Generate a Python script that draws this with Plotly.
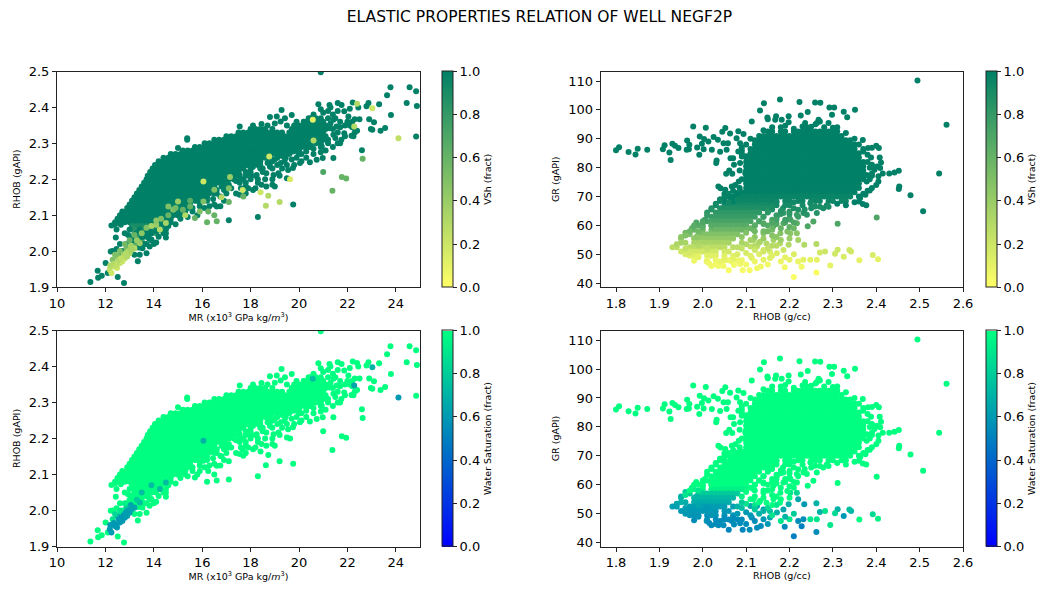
import plotly.graph_objects as go

core_rhob = [2.08,2.09,2.10,2.11,2.12,2.13,2.14,2.15,2.16,2.17,2.18,2.19,2.20,2.21,2.22,2.23,2.24,2.25,2.26,2.27,2.28,2.29,2.30,2.31,2.32,2.33,2.34,2.35,2.36,2.37]
core_mr = [
[12.4,12.6,12.8,13.0,13.2,13.4,13.6,13.8,14.0,14.2,14.4],
[12.5,12.7,12.9,13.1,13.3,13.5,13.7,13.9,14.1,14.3,14.5,14.7],
[12.6,12.8,13.0,13.2,13.4,13.6,13.8,14.0,14.2,14.4,14.6,14.8,15.0],
[12.7,12.9,13.1,13.3,13.5,13.7,13.9,14.1,14.3,14.5,14.7,14.9,15.1,15.2],
[12.9,13.1,13.3,13.5,13.7,13.9,14.1,14.3,14.5,14.7,14.9,15.1,15.3,15.4],
[13.0,13.2,13.4,13.6,13.8,14.0,14.2,14.4,14.6,14.8,15.0,15.2,15.4,15.5],
[13.1,13.3,13.5,13.7,13.9,14.1,14.3,14.5,14.7,14.9,15.1,15.3,15.5,15.7,15.8],
[13.2,13.4,13.6,13.8,14.0,14.2,14.4,14.6,14.8,15.0,15.2,15.4,15.6,15.8,16.0],
[13.3,13.5,13.7,13.9,14.1,14.3,14.5,14.7,14.9,15.1,15.3,15.5,15.7,15.9,16.1,16.2],
[13.4,13.6,13.8,14.0,14.2,14.4,14.6,14.8,15.0,15.2,15.4,15.6,15.8,16.0,16.2,16.3],
[13.5,13.7,13.9,14.1,14.3,14.5,14.7,14.9,15.1,15.3,15.5,15.7,15.9,16.1,16.3,16.5],
[13.6,13.8,14.0,14.2,14.4,14.6,14.8,15.0,15.2,15.4,15.6,15.8,16.0,16.2,16.4,16.6,16.8],
[13.7,13.9,14.1,14.3,14.5,14.7,14.9,15.1,15.3,15.5,15.7,15.9,16.1,16.3,16.5,16.7,16.9,17.0],
[13.75,13.9,14.1,14.3,14.5,14.7,14.9,15.1,15.3,15.5,15.7,15.9,16.1,16.3,16.5,16.7,16.9,17.1,17.2],
[13.85,14.0,14.2,14.4,14.6,14.8,15.0,15.2,15.4,15.6,15.8,16.0,16.2,16.4,16.6,16.8,17.0,17.2,17.4],
[13.95,14.1,14.3,14.5,14.7,14.9,15.1,15.3,15.5,15.7,15.9,16.1,16.3,16.5,16.7,16.9,17.1,17.3,17.5,17.6],
[14.05,14.2,14.4,14.6,14.8,15.0,15.2,15.4,15.6,15.8,16.0,16.2,16.4,16.6,16.8,17.0,17.2,17.4,17.6,17.8,17.9],
[14.2,14.4,14.6,14.8,15.0,15.2,15.4,15.6,15.8,16.0,16.2,16.4,16.6,16.8,17.0,17.2,17.4,17.6,17.8,18.0,18.2,18.3],
[14.4,14.6,14.8,15.0,15.2,15.4,15.6,15.8,16.0,16.2,16.4,16.6,16.8,17.0,17.2,17.4,17.6,17.8,18.0,18.2,18.4,18.6,18.8],
[14.7,14.9,15.1,15.3,15.5,15.7,15.9,16.1,16.3,16.5,16.7,16.9,17.1,17.3,17.5,17.7,17.9,18.1,18.3,18.5,18.7,18.9,19.1,19.3,19.4],
[15.2,15.4,15.6,15.8,16.0,16.2,16.4,16.6,16.8,17.0,17.2,17.4,17.6,17.8,18.0,18.2,18.4,18.6,18.8,19.0,19.2,19.4,19.6,19.8,20.0],
[15.7,15.9,16.1,16.3,16.5,16.7,16.9,17.1,17.3,17.5,17.7,17.9,18.1,18.3,18.5,18.7,18.9,19.1,19.3,19.5,19.7,19.9,20.1,20.3,20.4],
[16.1,16.3,16.5,16.7,16.9,17.1,17.3,17.5,17.7,17.9,18.1,18.3,18.5,18.7,18.9,19.1,19.3,19.5,19.7,19.9,20.1,20.3,20.5,20.7,20.9],
[16.5,16.7,16.9,17.1,17.3,17.5,17.7,17.9,18.1,18.3,18.5,18.7,18.9,19.1,19.3,19.5,19.7,19.9,20.1,20.3,20.5,20.7,20.9,21.0],
[17.0,17.2,17.4,17.6,17.8,18.0,18.2,18.4,18.6,18.8,19.0,19.2,19.4,19.6,19.8,20.0,20.2,20.4,20.6,20.8,21.0],
[17.5,17.7,17.9,18.1,18.3,18.5,18.7,18.9,19.1,19.3,19.6,19.8,20.0,20.2,20.4,20.6,20.8,21.0],
[18.0,18.2,18.4,18.6,18.9,19.7,19.9,20.1,20.3,20.5,20.7,20.9,21.1],
[20.0,20.2,20.4,20.6,20.8,21.0,21.1],
[20.2,20.4,20.6,20.8,21.0],
[20.5,20.7,20.9],
]
band_rhob = [2.07,2.06,2.05,2.04,2.03,2.02,2.01,2.00]
band_vsh = [0.9,0.85,0.8,0.75,0.7,0.65,0.6,0.55]
band_mr = [
[13.1,13.3,13.5,13.7,13.9,14.1,14.3],
[13.2,13.4,13.6,13.8,14.0,14.2],
[13.2,13.4,13.6,13.9,14.1],
[13.1,13.3,13.5,13.7],
[13.1,13.3,13.5],
[13.0,13.2,13.4],
[12.9,13.1,13.3],
[12.8,13.0],
]
dark_mr = [24.57,23.78,23.64,24.84,24.45,24.87,23.31,23.8,22.87,22.79,22.9,23.1,22.97,23.03,23.37,23.56,24.84,22.6,22.22,22.45,22.1,22.5,22.3,22.04,22.3,22.17,21.87,21.7,21.42,20.9,21.6,21.26,20.8,21.76,21.6,21.87,21.42,21.55,21.27,21.42,21.14,20.94,20.98,20.73,20.45,20.04,19.97,20.3,19.7,19.28,19.08,18.8,19.42,19.24,18.45,18.1,17.55,15.38,15.38,15.0,
19.76,18.3,17.1,16.45,16.6,16.75,16.3,17.0,17.2,17.55,17.9,18.1,17.55,17.8,18.25,18.3,18.45,18.65,18.9,18.65,18.95,19.15,19.5,19.55,19.75,19.25,19.45,19.75,18.4,18.1,18.8,17.3,17.55,
11.38,11.68,11.7,11.85,12.77,12.51,12.01,12.1,12.22,13.34,13.42,13.7,13.53,13.83,13.9,14.1,14.5,14.5,12.43,12.46,12.25,12.64,12.94,12.46,12.66,13.08,13.42,13.83,14.25,13.56,13.28,13.77]
dark_rhob = [2.456,2.456,2.434,2.445,2.412,2.404,2.409,2.379,2.412,2.403,2.367,2.359,2.34,2.338,2.335,2.343,2.319,2.281,2.414,2.4,2.396,2.367,2.367,2.375,2.33,2.321,2.328,2.3,2.259,2.498,2.412,2.407,2.409,2.407,2.39,2.389,2.366,2.347,2.342,2.324,2.31,2.291,2.259,2.254,2.247,2.245,2.273,2.277,2.379,2.393,2.375,2.373,2.37,2.361,2.354,2.35,2.347,2.314,2.31,2.287,
2.13,2.095,2.086,2.145,2.124,2.152,2.161,2.18,2.175,2.157,2.175,2.17,2.19,2.19,2.212,2.2,2.185,2.18,2.185,2.217,2.212,2.217,2.203,2.226,2.231,2.245,2.259,2.277,2.23,2.235,2.235,2.208,2.212,
1.914,1.945,1.926,1.931,1.911,1.928,1.967,1.939,1.999,1.972,1.99,1.994,2.008,2.013,2.032,2.024,2.038,2.05,2.038,2.06,2.071,2.073,2.045,2.006,1.994,2.036,2.06,2.06,2.06,2.04,2.05,2.04]
extra_mr = [21.2,21.4,21.0,21.2,21.5,21.7,21.3,21.6,21.4,21.9,
22.0,22.1,21.7,22.2,21.9,21.5,21.2,21.4,21.1,21.6,
21.75,22.4,22.25,22.2,21.3,20.6,20.4,20.9,19.9,19.5,
19.0,18.7,19.8,20.2,18.1,18.4,18.7,18.9,19.1,19.3,
19.6,19.9,20.1,20.3,20.6,20.9,21.1,20.5,19.3,19.5,
19.8,20.1,18.9,18.5,18.3,18.0,17.7,17.5,17.3,17.8,
18.0,17.3,17.6,18.3,18.6,18.9,19.2,17.8,18.2,17.0,
16.9,16.6,16.4,16.6,16.2,16.3,16.5,15.9,16.1,15.6,
15.8,15.4,15.1,15.2,14.9,14.7,14.5,14.6,16.9,17.1,
18.0,19.0,17.6,17.4,17.8,16.75,16.9,12.3,12.6,12.8,
13.0,12.9,12.7,13.1,12.4,13.2,13.5,13.7,13.9,14.2,
14.4,14.0,
15.0,15.3,15.6,15.9,16.2,16.5,16.2,16.5,16.8,17.1,
17.4,17.7,18.0,17.5,17.8,18.1,18.4,18.7,19.0,18.2,
18.5,18.8,19.1,19.4,19.7,20.0,20.3,20.6,20.9,21.2,
13.3,13.5,13.7,13.9,14.1,14.3,14.5,13.4,13.6,13.8]
extra_rhob = [2.39,2.38,2.385,2.37,2.37,2.36,2.355,2.33,2.34,2.35,
2.36,2.35,2.345,2.345,2.32,2.315,2.3,2.29,2.32,2.3,
2.31,2.335,2.32,2.36,2.4,2.38,2.37,2.395,2.36,2.35,
2.355,2.35,2.35,2.36,2.26,2.25,2.26,2.25,2.26,2.265,
2.27,2.26,2.27,2.26,2.27,2.275,2.28,2.29,2.23,2.24,
2.24,2.25,2.23,2.22,2.24,2.23,2.23,2.22,2.22,2.21,
2.21,2.2,2.2,2.19,2.2,2.2,2.21,2.18,2.175,2.16,
2.17,2.17,2.18,2.16,2.14,2.125,2.13,2.125,2.12,2.11,
2.1,2.095,2.09,2.105,2.075,2.08,2.06,2.07,2.19,2.2,
2.2,2.18,2.175,2.16,2.16,2.125,2.14,2.0,2.02,2.05,
2.06,2.02,2.0,2.03,2.075,1.99,2.02,2.02,2.05,2.04,
2.05,2.02,
2.1,2.11,2.12,2.135,2.15,2.16,2.165,2.175,2.18,2.185,
2.195,2.2,2.22,2.21,2.22,2.24,2.24,2.245,2.255,2.21,
2.23,2.245,2.24,2.25,2.255,2.27,2.285,2.285,2.29,2.31,
2.03,2.04,2.05,2.03,2.055,2.07,2.075,2.01,2.02,2.035]
pale_mr = [22.63,21.0,21.77,21.95,21.38,17.1,16.2,16.6,16.5,16.25,17.7,
23.03,22.4,22.28,24.11,20.57,20.6,18.77,19.63,17.67,18.41,18.73,18.63,19.2,
12.18,12.39,12.6,12.8,13.0,13.2,12.25,12.48,12.7,12.9,13.1,13.42,12.3,12.5,12.87,12.35,12.55,12.75,12.95,
14.1,14.5,14.25,14.8,14.6,15.5,15.9,15.7,16.05,15.3,15.0,16.05,17.15,16.8,17.1,16.5,
12.2,12.4,12.6,12.8,13.0,13.2,12.45,12.65,12.85,13.05,
13.3,13.5,13.7,13.9,14.1,14.3,14.6,14.9,15.2,15.5]
pale_rhob = [2.257,2.22,2.206,2.202,2.168,2.137,2.08,2.083,2.1,2.11,2.152,
2.398,2.41,2.347,2.314,2.366,2.308,2.263,2.2,2.17,2.164,2.154,2.126,2.137,
1.948,1.957,1.967,1.98,1.994,2.008,1.939,1.953,1.971,1.985,2.004,2.022,1.976,1.985,2.008,1.965,1.975,1.99,2.0,
2.073,2.078,2.06,2.115,2.124,2.124,2.11,2.092,2.138,2.1,2.138,2.194,2.206,2.15,2.175,2.171,
1.96,1.99,2.0,2.02,2.03,2.045,1.96,1.98,1.995,2.015,
2.03,2.05,2.065,2.07,2.085,2.09,2.1,2.12,2.115,2.14]
pale_vsh = [0.6,0.7,0.6,0.6,0.6,0.6,0.6,0.6,0.6,0.6,0.6,
0.2,0.3,0.3,0.25,0.1,0.3,0.2,0.15,0.2,0.2,0.3,0.3,0.3,
0.25,0.25,0.25,0.25,0.3,0.3,0.2,0.2,0.2,0.3,0.35,0.4,0.5,0.5,0.55,0.3,0.3,0.3,0.35,
0.4,0.35,0.3,0.5,0.5,0.6,0.5,0.6,0.5,0.3,0.4,0.2,0.4,0.3,0.5,0.5,
0.3,0.5,0.5,0.55,0.6,0.6,0.25,0.25,0.3,0.35,
0.4,0.45,0.5,0.35,0.45,0.5,0.6,0.55,0.6,0.65]
pale_sw = [1,1,1,1,1,1,1,1,1,1,1,
0.7,1,0.65,0.6,0.75,1,1,1,1,1,1,1,1,
0.6,0.6,0.6,0.6,0.62,0.65,0.6,0.6,0.6,0.62,0.65,0.75,0.9,0.7,0.8,0.6,0.6,0.6,0.62,
1,0.75,0.75,1,1,1,1,1,1,1,1,0.7,1,1,1,1,
0.6,0.85,0.9,0.95,1,1,0.6,0.6,0.62,0.65,
0.8,0.75,1,0.75,1,1,1,1,1,1]

mass_gr = [92.5,91,89.5,88,86.5,85,83.5,82,80.5,79,77.5,76,74.5,73,71.5,70,68.5]
mass_vsh = [1,1,1,1,1,1,1,1,1,1,1,1,1,1,0.99,0.97,0.95]
mass_rhob = [
[2.15,2.16,2.18,2.19,2.21,2.22,2.23,2.24,2.25,2.26,2.27,2.28,2.29,2.30,2.31],
[2.13,2.14,2.15,2.16,2.17,2.18,2.19,2.20,2.21,2.22,2.23,2.24,2.25,2.26,2.27,2.28,2.29,2.30,2.31,2.32],
[2.12,2.13,2.14,2.15,2.16,2.17,2.18,2.19,2.20,2.21,2.22,2.23,2.24,2.25,2.26,2.27,2.28,2.29,2.30,2.31,2.32,2.33,2.34],
[2.12,2.13,2.14,2.15,2.16,2.17,2.18,2.19,2.20,2.21,2.22,2.23,2.24,2.25,2.26,2.27,2.28,2.29,2.30,2.31,2.32,2.33,2.34,2.35],
[2.11,2.12,2.13,2.14,2.15,2.16,2.17,2.18,2.19,2.20,2.21,2.22,2.23,2.24,2.25,2.26,2.27,2.28,2.29,2.30,2.31,2.32,2.33,2.34,2.35],
[2.11,2.12,2.13,2.14,2.15,2.16,2.17,2.18,2.19,2.20,2.21,2.22,2.23,2.24,2.25,2.26,2.27,2.28,2.29,2.30,2.31,2.32,2.33,2.34,2.35,2.36],
[2.10,2.11,2.12,2.13,2.14,2.15,2.16,2.17,2.18,2.19,2.20,2.21,2.22,2.23,2.24,2.25,2.26,2.27,2.28,2.29,2.30,2.31,2.32,2.33,2.34,2.35,2.36],
[2.10,2.11,2.12,2.13,2.14,2.15,2.16,2.17,2.18,2.19,2.20,2.21,2.22,2.23,2.24,2.25,2.26,2.27,2.28,2.29,2.30,2.31,2.32,2.33,2.34,2.35,2.36,2.37],
[2.10,2.11,2.12,2.13,2.14,2.15,2.16,2.17,2.18,2.19,2.20,2.21,2.22,2.23,2.24,2.25,2.26,2.27,2.28,2.29,2.30,2.31,2.32,2.33,2.34,2.35,2.36,2.37],
[2.10,2.11,2.12,2.13,2.14,2.15,2.16,2.17,2.18,2.19,2.20,2.21,2.22,2.23,2.24,2.25,2.26,2.27,2.28,2.29,2.30,2.31,2.32,2.33,2.34,2.35,2.36,2.37],
[2.10,2.11,2.12,2.13,2.14,2.15,2.16,2.17,2.18,2.19,2.20,2.21,2.22,2.23,2.24,2.25,2.26,2.27,2.28,2.29,2.30,2.31,2.32,2.33,2.34,2.35,2.36,2.37],
[2.10,2.11,2.12,2.13,2.14,2.15,2.16,2.17,2.18,2.19,2.20,2.21,2.22,2.23,2.24,2.25,2.26,2.27,2.28,2.29,2.30,2.31,2.32,2.33,2.34,2.35,2.36,2.37],
[2.10,2.11,2.12,2.13,2.14,2.15,2.16,2.17,2.18,2.19,2.20,2.21,2.22,2.23,2.24,2.25,2.26,2.27,2.28,2.29,2.30,2.31,2.32,2.33,2.34,2.35,2.36],
[2.10,2.11,2.12,2.13,2.14,2.15,2.16,2.17,2.18,2.19,2.20,2.21,2.22,2.23,2.24,2.25,2.26,2.27,2.28,2.29,2.30,2.31,2.32,2.33,2.34,2.35,2.36],
[2.09,2.10,2.11,2.12,2.13,2.14,2.15,2.16,2.17,2.18,2.19,2.20,2.21,2.22,2.23,2.24,2.25,2.26,2.27,2.28,2.29,2.30,2.31,2.32,2.33,2.34,2.35],
[2.08,2.09,2.10,2.11,2.12,2.13,2.14,2.15,2.16,2.17,2.18,2.19,2.20,2.21,2.22,2.23,2.24,2.25,2.26,2.27,2.28,2.29,2.30,2.31,2.32,2.33,2.34],
[2.07,2.08,2.09,2.10,2.11,2.12,2.13,2.14,2.15,2.16,2.17,2.19,2.20,2.22,2.23,2.25,2.26,2.27,2.29,2.30,2.32,2.33],
]
slope_gr = [67,66,64.5,63,61.5,60,58.5,57,55.5,54,52.5,51,49.5,48]
slope_vsh = [0.92,0.88,0.82,0.78,0.72,0.66,0.58,0.5,0.42,0.34,0.26,0.18,0.12,0.07]
slope_sw = [1,1,1,1,1,1,0.95,0.8,0.72,0.68,0.62,0.6,0.58,0.55]
slope_rhob = [
[2.05,2.06,2.07,2.08,2.09,2.10,2.11,2.12,2.13,2.14,2.15,2.16,2.17],
[2.04,2.05,2.06,2.07,2.08,2.09,2.10,2.11,2.12,2.13,2.14,2.15],
[2.03,2.04,2.05,2.06,2.07,2.08,2.09,2.10,2.11,2.12,2.13,2.15],
[2.02,2.03,2.04,2.05,2.06,2.07,2.08,2.09,2.10,2.11,2.12,2.14],
[2.00,2.01,2.02,2.03,2.04,2.05,2.06,2.07,2.08,2.09,2.10,2.11,2.13],
[1.99,2.00,2.02,2.03,2.04,2.05,2.06,2.07,2.08,2.09,2.10,2.12],
[1.98,2.00,2.02,2.03,2.04,2.05,2.06,2.07,2.08,2.09,2.10],
[1.97,1.99,2.00,2.01,2.02,2.03,2.04,2.05,2.06,2.07,2.08],
[1.95,1.98,1.99,2.00,2.01,2.02,2.03,2.04,2.05,2.06,2.07],
[1.96,1.98,1.99,2.00,2.01,2.02,2.03,2.04,2.05,2.06],
[1.93,1.94,1.97,1.98,1.99,2.00,2.01,2.02,2.03,2.04,2.05,2.07],
[1.95,1.96,1.97,1.98,1.99,2.00,2.01,2.02,2.03,2.05,2.06],
[1.97,1.98,1.99,2.01,2.02,2.03,2.05,2.07],
[2.01,2.03,2.05,2.06,2.08],
]
solid_rhob = [1.8,1.807,1.829,1.845,1.85,1.872,1.908,1.912,1.923,1.926,1.93,1.936,1.944,1.964,1.969,1.963,1.968,1.978,1.987,1.993,1.998,1.992,2.003,2.002,2.007,2.021,2.013,2.025,2.035,2.04,2.045,2.052,2.048,2.058,2.055,2.063,2.032,2.031,2.064,2.07,2.054,2.061,2.068,2.036,2.041,2.052,2.067,2.075,2.083,2.072,2.082,2.094,2.078,2.086,2.082,2.09,2.086,2.098,2.063,2.07,2.078,
2.113,2.132,2.141,2.149,2.15,2.178,2.169,2.167,2.182,2.198,2.198,2.223,2.226,2.242,2.259,2.271,2.292,2.303,2.298,2.325,2.333,2.351,2.267,2.263,2.29,2.236,2.18,2.23,2.24,2.25,2.28,2.30,
2.495,2.562,2.545,2.479,2.508,2.452,2.442,2.43,2.453,2.452,2.369,2.37,2.381,2.39,2.4,2.406,2.388,2.408,2.411,2.39,2.402,2.409,2.396,2.415,2.405,2.378,2.39,2.378,2.405,2.4,2.39,2.385,2.375,2.363,2.36,2.369,2.377,
2.14,2.16,2.19,2.21,2.26,2.27,2.31,2.33,2.35,2.36,
2.37,2.38,2.38,2.385,2.39,2.385,2.38,2.37,2.36,2.35,
2.33,2.31,2.09,2.09,2.085,2.09,2.085,2.08,2.07,2.06,
2.05,2.05,2.07,2.04,2.11,2.10,2.09,2.10]
solid_gr = [86,87.1,85.4,84.6,86.6,86.2,86.4,87.8,85.3,82.7,88.3,87.6,86.8,89.4,87.9,86.2,86.4,94.3,87,90.8,88.3,84.5,89.9,86.4,93.8,86.2,89.1,90.6,89.7,85.5,92.4,93.7,88.5,88.5,86.2,91.8,82.5,81.6,83.3,83.3,77.9,79,77.9,73.5,72.9,72.4,73.5,74,75.2,81,92.6,91.7,90.2,88.5,85.6,83.9,81.6,78.1,68.3,70,71.2,
96,99.8,102.3,97.4,96.8,103.6,97.8,96.6,96.6,97.8,95.7,102.7,98.1,99.3,102.6,102.5,100.8,100.8,98.3,99.4,97.5,100.1,96.6,95.5,95.5,95.5,94,94.3,94,94.2,94,93.8,
110.2,94.9,78,70.5,64.9,78.9,78.3,78,73.5,72.6,89.6,85.6,86.8,86.9,87.6,86.8,83.5,83.5,81.8,81,80.4,79.9,79.3,78,77,77.5,77.2,75.2,75.2,74,73,72.1,70.6,69.5,68.3,67.4,67,
93,94,94.5,93.5,95,96,94,92,90,88,
86.5,84.5,82,80,78,76,72,71,70,68,
67,67.5,87,85,79,76,73,71,72,70,
68.5,71,68.5,69,90,88,86,84]
loose_rhob = [2.401,2.311,2.263,2.255,2.242,2.259,2.278,2.286,2.232,2.24,2.22,2.248,2.217,
2.262,2.21,2.262,2.189,2.294,2.361,2.404,2.392,2.342,2.338,2.325,2.311,2.305,2.282,2.27,2.263,2.248,2.232,2.228,2.22,2.2,2.234,2.22,2.217,2.202,2.198,2.186,2.171,2.155,2.14,2.113,2.125,2.134,2.108,2.092,2.06,2.036,2.02,2.009,2.048,2.067,2.086,2.072,
2.117,2.132,2.147,2.163,2.178,2.155,2.14,2.125,2.11,2.117,2.14,2.16,2.179,2.195,2.14,2.163,2.186,2.202,2.171,2.186,2.2,2.217,
2.29,2.27,2.25,2.235,2.21,2.2,2.185,2.16,2.17,2.18,
2.2,2.19,2.17,2.15,2.16,2.18,2.2,2.21,2.16,2.14,
2.12,2.13,2.15,2.17,2.18,2.19,2.21,2.2,2.12,2.1,
2.09,2.1,2.11,2.09,2.1,2.12,2.15,2.16,2.18,2.14,
2.02,2.03,2.01,1.985,1.975,1.96,1.95,1.95,1.94,1.96,
1.97,1.98,1.99,1.96,1.985,1.99,2.005,2.02,2.0,1.99,
2.01,2.015,2.03,2.04,2.05,2.07,2.08,2.08,2.09,2.09,
2.1,2.11,2.12,2.13,2.14,2.15,2.16,2.04,2.06,2.08,
2.17,2.19,2.21,2.23,2.18,2.2,2.22,2.17,2.19,2.21,
2.05,2.06,2.03,2.04,2.02,2.01,2.0,1.98,1.97,1.96,
2.11,2.13,2.15,2.17,2.12,2.14,2.16,2.12,2.14,2.16]
loose_gr = [62.8,60.6,64.3,61.4,59.7,66.6,66,67,64.3,63.7,65.4,67.7,60.8,
53.6,42.2,43.7,45.5,46.1,48,48.3,49.8,51,51.5,49.2,51.6,50.2,51,50.6,48.1,48.1,48.1,45.7,47.5,48.1,53.3,55,57.3,57.3,53.3,51.5,50.4,48.7,48.1,48.7,45.2,45.8,44.5,44.5,44.5,46,46,47.5,46,47.5,46.7,46.3,
55,54.4,53.8,55,53.8,50.9,51.5,52.7,52.7,58.5,57.3,58.5,57.3,57.9,60.8,59.7,60.8,62,63.1,64.3,64.8,63.7,
66.5,66.5,66,65.5,66,67,66,65.5,63.5,64,
62.5,61,60.5,60,62,59,59.5,61,56.5,55.5,
53,50,52,53,55,49,50,55.5,56,53.5,
52,50.5,49.5,48,46.5,47.5,46.5,49.5,47.5,58,
66,67.5,64.5,61,59,57.5,56,54,53.5,50,
50.5,47.8,49,52,56,58,62,60,59.5,53,
52,46.8,46.5,47.5,48.5,48.5,50,52.5,54,56,
57.5,59,60,61.5,63,64.8,66.5,69,68,69,
68,67,68,67,65,64,63,62,62,59,
70,71,67,68.5,65.5,63.5,61,60,58,56.5,
55,54,58,56,51.5,51,53,58,60.5,61]
loose_vsh = [0.7,0.7,0.85,0.7,0.7,0.9,0.9,0.92,0.85,0.85,0.88,0.92,0.65,
0.3,0.02,0.02,0.05,0.1,0.1,0.1,0.15,0.18,0.2,0.15,0.2,0.18,0.2,0.18,0.1,0.1,0.1,0.05,0.08,0.1,0.3,0.35,0.45,0.45,0.3,0.2,0.15,0.12,0.1,0.12,0.05,0.06,0.04,0.04,0.03,0.05,0.05,0.08,0.05,0.08,0.06,0.05,
0.35,0.32,0.3,0.35,0.3,0.15,0.18,0.25,0.25,0.55,0.48,0.55,0.48,0.5,0.65,0.6,0.65,0.7,0.75,0.8,0.82,0.78,
0.9,0.9,0.9,0.88,0.88,0.92,0.88,0.88,0.8,0.82,
0.75,0.7,0.68,0.66,0.74,0.6,0.63,0.7,0.47,0.4,
0.28,0.13,0.24,0.28,0.38,0.1,0.14,0.4,0.44,0.3,
0.23,0.16,0.12,0.07,0.05,0.08,0.05,0.12,0.08,0.54,
0.88,0.93,0.83,0.7,0.62,0.55,0.45,0.35,0.32,0.16,
0.17,0.07,0.1,0.24,0.45,0.56,0.75,0.66,0.63,0.3,
0.24,0.06,0.05,0.08,0.1,0.1,0.14,0.26,0.34,0.44,
0.5,0.58,0.66,0.72,0.78,0.83,0.9,0.95,0.93,0.95,
0.93,0.92,0.93,0.92,0.85,0.82,0.78,0.75,0.76,0.58,
0.98,0.98,0.92,0.95,0.85,0.8,0.7,0.65,0.57,0.5,
0.36,0.33,0.56,0.45,0.2,0.18,0.28,0.56,0.68,0.7]
loose_sw = [1,1,1,1,1,1,1,1,1,1,1,1,1,
0.7,0.5,0.55,0.55,0.9,1,0.95,0.85,0.7,0.75,0.6,0.7,0.85,0.9,0.7,0.9,0.9,0.55,0.5,0.55,0.9,0.6,0.65,0.85,0.9,0.7,0.65,0.7,0.65,0.6,0.55,0.55,0.55,0.55,0.52,0.52,0.55,0.55,0.58,0.55,0.55,0.55,0.55,
1,1,1,1,1,0.75,0.6,0.65,0.65,1,1,1,1,1,1,1,1,1,1,1,1,1,
1,1,1,1,1,1,1,1,1,1,
1,1,1,1,1,1,1,1,1,1,
0.9,0.7,0.85,0.9,1,0.7,0.8,1,1,0.9,
0.75,0.6,0.6,0.55,0.55,0.55,0.6,0.9,0.9,1,
1,1,1,1,0.95,0.8,0.7,0.7,0.65,0.6,
0.6,0.55,0.58,0.62,0.72,0.9,1,1,1,0.65,
0.6,0.55,0.55,0.55,0.55,0.55,0.6,0.7,0.8,0.95,
1,1,1,1,1,1,1,1,1,1,
1,1,1,1,1,1,1,1,1,1,
1,1,1,1,1,1,1,1,1,0.9,
1,1,1,1,0.8,0.7,1,1,1,1]

# ---------- assemble the series ----------
mr_all, rhob_l, vsh_l, sw_l = [], [], [], []
for y, xs in zip(core_rhob, core_mr):
    mr_all += xs; rhob_l += [y] * len(xs); vsh_l += [1.0] * len(xs); sw_l += [1.0] * len(xs)
for y, v, xs in zip(band_rhob, band_vsh, band_mr):
    mr_all += xs; rhob_l += [y] * len(xs); vsh_l += [v] * len(xs); sw_l += [1.0] * len(xs)
mr_all += dark_mr + extra_mr; rhob_l += dark_rhob + extra_rhob
vsh_l += [1.0] * len(dark_mr + extra_mr); sw_l += [1.0] * len(dark_mr + extra_mr)
mr_all += pale_mr; rhob_l += pale_rhob; vsh_l += pale_vsh; sw_l += pale_sw

rhob_r, gr_all, vsh_r, sw_r = [], [], [], []
for y, v, xs in zip(mass_gr, mass_vsh, mass_rhob):
    rhob_r += xs; gr_all += [y] * len(xs); vsh_r += [v] * len(xs); sw_r += [1.0] * len(xs)
for y, v, s, xs in zip(slope_gr, slope_vsh, slope_sw, slope_rhob):
    rhob_r += xs; gr_all += [y] * len(xs); vsh_r += [v] * len(xs); sw_r += [s] * len(xs)
rhob_r += solid_rhob; gr_all += solid_gr; vsh_r += [1.0] * len(solid_gr); sw_r += [1.0] * len(solid_gr)
rhob_r += loose_rhob; gr_all += loose_gr; vsh_r += loose_vsh; sw_r += loose_sw

W, H = 1043, 589
ML, MR_, MT, MB = 40, 10, 45, 10
PW, PH = W - ML - MR_, H - MT - MB
def fx(px):
    return (px - ML) / PW
def fy(py):
    return 1 - (py - MT) / PH

summer_r = [[0, "rgb(255,255,102)"], [1, "rgb(0,128,102)"]]
winter = [[0, "rgb(0,0,255)"], [1, "rgb(0,255,128)"]]
FONT = "DejaVu Sans"
MR_TITLE = "MR (x10<sup>3</sup> GPa kg/<i>m</i><sup>3</sup>)"

panels = [
    (mr_all, rhob_l, vsh_l, "x", "y", "coloraxis", 57, 420, 71.5, 287),
    (rhob_r, gr_all, vsh_r, "x2", "y2", "coloraxis2", 600.7, 963, 71.5, 287),
    (mr_all, rhob_l, sw_l, "x3", "y3", "coloraxis3", 57, 420, 330.5, 546.5),
    (rhob_r, gr_all, sw_r, "x4", "y4", "coloraxis4", 600.7, 963, 330.5, 546.5),
]
fig = go.Figure()
for xs, ys, cs, xa, ya, ca, *_ in panels:
    fig.add_trace(go.Scatter(x=xs, y=ys, xaxis=xa, yaxis=ya, mode="markers",
                             marker=dict(size=6, color=cs, coloraxis=ca, line=dict(width=0)),
                             showlegend=False, hoverinfo="skip"))

layout = dict(
    width=W, height=H, margin=dict(l=ML, r=MR_, t=MT, b=MB, autoexpand=False), autosize=False,
    paper_bgcolor="white", plot_bgcolor="white", showlegend=False,
    font=dict(family=FONT, size=13, color="#000"),
    title=dict(text="ELASTIC PROPERTIES RELATION OF WELL NEGF2P", x=539.5 / W, xanchor="center",
               y=1 - 17 / H, yanchor="middle", font=dict(size=15.5, family=FONT)),
)
axis_common = dict(showgrid=False, zeroline=False, showline=True, mirror=True, linecolor="#222", linewidth=1,
                   ticks="outside", ticklen=4, tickwidth=1, tickcolor="#222",
                   tickfont=dict(size=13, family=FONT))
xt = dict(font=dict(size=9.5, family=FONT), standoff=3)
yt = dict(font=dict(size=9.5, family=FONT), standoff=6)
mr_ticks = [10, 12, 14, 16, 18, 20, 22, 24]
rho_ticks = [1.9, 2.0, 2.1, 2.2, 2.3, 2.4, 2.5]
rhob_x_ticks = [1.8, 1.9, 2.0, 2.1, 2.2, 2.3, 2.4, 2.5, 2.6]
gr_ticks = [40, 50, 60, 70, 80, 90, 100, 110]
axes_cfg = [
    ("", [10, 25], mr_ticks, None, MR_TITLE, [1.9, 2.5], rho_ticks, ".1f", "RHOB (gAPI)"),
    ("2", [1.7647, 2.6], rhob_x_ticks, ".1f", "RHOB (g/cc)", [38.7, 113.3], gr_ticks, None, "GR (gAPI)"),
    ("3", [10, 25], mr_ticks, None, MR_TITLE, [1.9, 2.5], rho_ticks, ".1f", "RHOB (gAPI)"),
    ("4", [1.7647, 2.6], rhob_x_ticks, ".1f", "RHOB (g/cc)", [38.7, 113.3], gr_ticks, None, "GR (gAPI)"),
]
cb_titles = ["VSh (fract)", "VSh (fract)", "Water Saturation (fract)", "Water Saturation (fract)"]
scales = [summer_r, summer_r, winter, winter]
cb_x = [442, 985.7, 442, 985.7]
for i, (sfx, xr, xtk, xf, xtt, yr, ytk, yf, ytt) in enumerate(axes_cfg):
    p = panels[i]
    x0, x1, top, bot = p[6], p[7], p[8], p[9]
    layout["xaxis" + sfx] = dict(axis_common, domain=[fx(x0), fx(x1)], range=xr, tickvals=xtk,
                                 tickformat=xf or "d", title=dict(xt, text=xtt), anchor="y" + sfx)
    layout["yaxis" + sfx] = dict(axis_common, domain=[fy(bot), fy(top)], range=yr, tickvals=ytk,
                                 tickformat=yf or "d", title=dict(yt, text=ytt), anchor="x" + sfx)
    layout["coloraxis" + sfx] = dict(
        cmin=0, cmax=1, colorscale=scales[i],
        colorbar=dict(x=fx(cb_x[i]), xanchor="left", thickness=11, thicknessmode="pixels",
                      len=bot - top, lenmode="pixels", y=fy((top + bot) / 2), yanchor="middle",
                      outlinecolor="#222", outlinewidth=1, ticks="outside", ticklen=4, tickcolor="#222",
                      tickvals=[0, 0.2, 0.4, 0.6, 0.8, 1.0], tickformat=".1f", xpad=0, ypad=0,
                      tickfont=dict(size=13, family=FONT),
                      title=dict(text=cb_titles[i], side="right", font=dict(size=9.5, family=FONT))))
fig.update_layout(**layout)
fig.write_html("out.html", config=dict(displayModeBar=False), post_script="document.body.style.margin='0';")
